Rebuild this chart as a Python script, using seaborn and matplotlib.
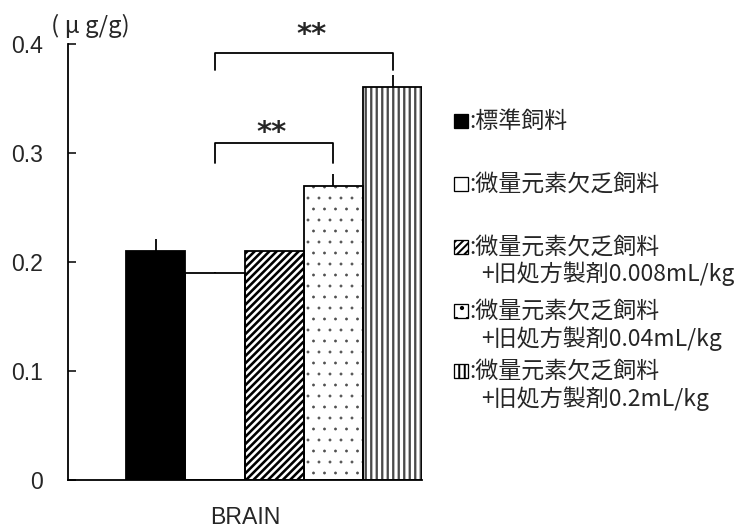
import matplotlib
matplotlib.use("Agg")
import matplotlib.pyplot as plt
from matplotlib.patches import Rectangle
import seaborn as sns
import pandas as pd

# データ
groups = ["標準飼料", "微量元素欠乏飼料", "0.008mL/kg", "0.04mL/kg", "0.2mL/kg"]
means = [0.21, 0.19, 0.21, 0.27, 0.36]
errors = [0.011, 0.001, 0.0, 0.011, 0.011]
ytick_vals = [0, 0.1, 0.2, 0.3, 0.4]
ytick_labels = ["0", "0.1", "0.2", "0.3", "0.4"]
legend_lines = [
    [":標準飼料"],
    [":微量元素欠乏飼料"],
    [":微量元素欠乏飼料", "+旧処方製剤0.008mL/kg"],
    [":微量元素欠乏飼料", "+旧処方製剤0.04mL/kg"],
    [":微量元素欠乏飼料", "+旧処方製剤0.2mL/kg"],
]
# 有意差 (左の棒, 右の棒, 横線の高さ, 下端, ** の高さ)
sig_pairs = [(1, 4, 0.3915, 0.376, 0.408), (1, 3, 0.309, 0.291, 0.318)]

facecolors = ["black", "white", "white", "white", "white"]
hatchcolors = ["black", "black", "black", "#505050", "#4a4a4a"]
hatches = ["", "", "//////", "..", "||||"]

# ハッチの間隔が dpi に比例するので dpi=132 にして、サイズはピクセルで指定
DPI = 132
W, H = 739, 529


def pt(px):
    return px * 72 / DPI


sns.set_style("white")
plt.rcParams["font.family"] = ["Liberation Sans", "DejaVu Sans"]
plt.rcParams["hatch.linewidth"] = pt(2.0)
jp = ["Noto Sans CJK JP", "DejaVu Sans"]

fig = plt.figure(figsize=((W + 0.3) / DPI, (H + 0.3) / DPI), dpi=DPI)
ax = fig.add_axes([68 / W, 49 / H, 354 / W, 436 / H])

df = pd.DataFrame({"group": groups, "value": means})
sns.barplot(data=df, x="group", y="value", hue="group", order=groups,
            palette=dict(zip(groups, facecolors)), width=1.0, errorbar=None,
            legend=False, ax=ax, saturation=1)

hatch_lw = [pt(1), pt(1), pt(2.6), pt(0.6), pt(2.3)]
for p, hc, h, lw in zip(ax.patches, hatchcolors, hatches, hatch_lw):
    p.set_edgecolor(hc)
    p.set_hatch(h)
    if hasattr(p, "set_hatch_linewidth"):
        p.set_hatch_linewidth(lw)
    p.set_linewidth(0)

# 黒い枠線
sns.barplot(data=df, x="group", y="value", order=groups, width=1.0,
            errorbar=None, fill=False, color="black", linewidth=pt(1.8),
            ax=ax)

# エラーバー（上側のみ）
ax.errorbar(range(len(groups)), means, yerr=[[0] * len(groups), errors],
            fmt="none", ecolor="black", elinewidth=pt(1.8), capsize=0)

# 有意差の括弧
for a, b, top, low, sy in sig_pairs:
    ax.plot([a, a, b, b], [low, top, top, low], color="black", lw=pt(1.8),
            clip_on=False)
    ax.text((a + b) / 2 + (0.13 if b == 4 else -0.05), sy, "**",
            ha="center", va="center", fontsize=pt(29), fontweight="bold",
            family="DejaVu Sans")

ax.set_xlim(-1.48, 4.5)
ax.set_ylim(0, 0.4)
ax.set_xticks([])
ax.set_yticks(ytick_vals)
ax.set_yticklabels(ytick_labels, fontsize=pt(23))
ax.tick_params(axis="y", direction="in", length=pt(8), width=pt(1.8),
               pad=pt(25), left=True)
ax.set_xlabel("BRAIN", fontsize=pt(23), labelpad=pt(26))
ax.set_ylabel("")
sns.despine(ax=ax)
for s in ["left", "bottom"]:
    ax.spines[s].set_linewidth(pt(1.8))
    ax.spines[s].set_color("black")

fig.text(90 / W, 1 - 26 / H, "( μ g/g)", ha="center", va="center",
         fontsize=pt(24), family=jp)

# 凡例
entry_y = [121, 184, 247, 311, 371]
for i, (lines, y) in enumerate(zip(legend_lines, entry_y)):
    r = Rectangle((454 / W, 1 - (y + 7) / H), 14 / W, 14 / H,
                  transform=fig.transFigure, facecolor=facecolors[i],
                  edgecolor="black", lw=pt(1.3), hatch=hatches[i])
    fig.patches.append(r)
    fig.text(469 / W, 1 - y / H, lines[0], ha="left", va="center",
             fontsize=pt(23), family=jp)
    if len(lines) > 1:
        fig.text(481 / W, 1 - (y + 27) / H, lines[1], ha="left",
                 va="center", fontsize=pt(23), family=jp)

fig.savefig("out.png", dpi=DPI)
